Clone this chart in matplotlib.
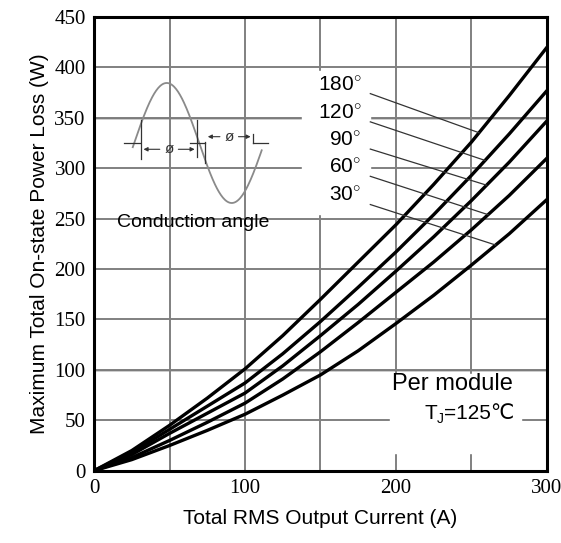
import numpy as np
import matplotlib
matplotlib.use("Agg")
import matplotlib.pyplot as plt

plt.rcParams['font.family'] = ['Liberation Sans', 'DejaVu Sans']
plt.rcParams['mathtext.fontset'] = 'custom'
plt.rcParams['mathtext.rm'] = 'Liberation Sans'
plt.rcParams['mathtext.it'] = 'Liberation Sans'

current = [0, 25, 50, 75, 100, 125, 150, 175, 200, 225, 250, 275, 300]
loss_180 = [0, 20, 45, 72, 101, 134, 170, 207, 244, 284, 326, 372, 420]
loss_120 = [0, 18, 41, 64, 87, 116, 148, 182, 217, 254, 293, 334, 377]
loss_90 = [0, 16, 37, 57, 77, 104, 134, 165, 198, 232, 268, 306, 347]
loss_60 = [0, 13, 30, 48, 67, 91, 118, 147, 177, 207, 239, 273, 310]
loss_30 = [0, 11, 25, 40, 56, 75, 95, 119, 146, 174, 204, 235, 269]

angle_labels = ["180", "120", "90", "60", "30"]
label_y = [383, 355, 328, 301, 273]
leader_end_x = [255, 259, 260, 261, 266]

y_ticks = [0, 50, 100, 150, 200, 250, 300, 350, 400, 450]

fig = plt.figure(figsize=(5.61, 5.43), dpi=100)
ax = fig.add_axes([0.1676, 0.1331, 0.8074, 0.8356])

series = [loss_180, loss_120, loss_90, loss_60, loss_30]
for s in series:
    ax.plot(current, s, color="black", lw=2.4, zorder=3,
            solid_capstyle="round", solid_joinstyle="round")

ax.set_xlim(0, 300)
ax.set_ylim(0, 450)
ax.set_xticks([0, 50, 100, 150, 200, 250, 300])
ax.set_xticklabels(["0", "", "100", "", "200", "", "300"])
ax.set_yticks(y_ticks)
for lab in ax.get_xticklabels() + ax.get_yticklabels():
    lab.set_family("Liberation Serif")
    lab.set_fontsize(15)
ax.tick_params(length=0, pad=6)
ax.grid(True, color="#808080", lw=1.4, zorder=1)
ax.axhline(100, color="black", lw=1.0, zorder=1.5)
ax.axhline(350, color="black", lw=1.0, zorder=1.5)
for sp in ax.spines.values():
    sp.set_linewidth(2.2)
    sp.set_zorder(5)

ax.set_xlabel("Total RMS Output Current (A)", fontsize=15, labelpad=8)
ax.set_ylabel("Maximum Total On-state Power Loss (W)", fontsize=15, labelpad=4)

# angle labels with leader lines
ax.fill_between([138, 183], 255, 396, color="white", zorder=2)
for lab, ly, ex, s in zip(angle_labels, label_y, leader_end_x, series):
    ax.text(177, ly, lab + r"$^{\circ}$", fontsize=15, ha="right", va="center", zorder=4)
    ey = np.interp(ex, current, s)
    ax.plot([183, ex], [ly - 9, ey], color="#333333", lw=0.9, zorder=4)

# per module box
ax.fill_between([196, 283], 18, 96, color="white", zorder=2)
ax.text(277.5, 86, "Per module", fontsize=17, ha="right", va="center", zorder=4)
tj = ax.text(278.5, 57, "=125\u2103", fontsize=15, ha="right", va="center", zorder=4)
sub = ax.annotate("J", xy=(0, 0), xycoords=tj, xytext=(0, -2), textcoords="offset points",
                  fontsize=10, ha="right", va="bottom", zorder=4)
ax.annotate("T", xy=(0, 0), xycoords=(sub, tj), fontsize=15, ha="right", va="bottom", zorder=4)

# conduction angle inset
ins = fig.add_axes([0.205, 0.5617, 0.2799, 0.3002])
ins.set_xlim(-53.2, 381.6)
ins.set_ylim(-1.583, 1.133)
ins.axis("off")
ins.patch.set_visible(True)
ins.patch.set_facecolor("white")
deg = np.linspace(-4, 353, 200)
ins.plot(deg, np.sin(np.radians(deg)), color="#8a8a8a", lw=1.3)
gc = "#333333"
ins.plot([-27, 16], [0, 0], color=gc, lw=0.9)
ins.plot([18, 18], [0.38, -0.26], color=gc, lw=0.9)
ins.plot([175, 175], [0.38, -0.23], color=gc, lw=0.9)
ins.plot([155, 196], [0, 0], color=gc, lw=0.9)
ins.plot([196, 196], [0.02, -0.34], color=gc, lw=0.9)
ins.plot([330, 330], [0.15, 0], color=gc, lw=0.9)
ins.plot([330, 371], [0, 0], color=gc, lw=0.9)
for a0, a1, yy in [(18, 175, -0.105), (196, 330, 0.105)]:
    mid = (a0 + a1) / 2
    ins.annotate("", xy=(a0, yy), xytext=(mid - 18, yy),
                 arrowprops=dict(arrowstyle="-|>", color=gc, lw=0.8, mutation_scale=6))
    ins.annotate("", xy=(a1, yy), xytext=(mid + 18, yy),
                 arrowprops=dict(arrowstyle="-|>", color=gc, lw=0.8, mutation_scale=6))
    ins.text(mid, yy, "\u00f8", fontsize=11, ha="center", va="center", color="#333333")
ins.text(164, -1.333, "Conduction angle", fontsize=14, ha="center", va="center")

fig.savefig("out.png", dpi=100)
